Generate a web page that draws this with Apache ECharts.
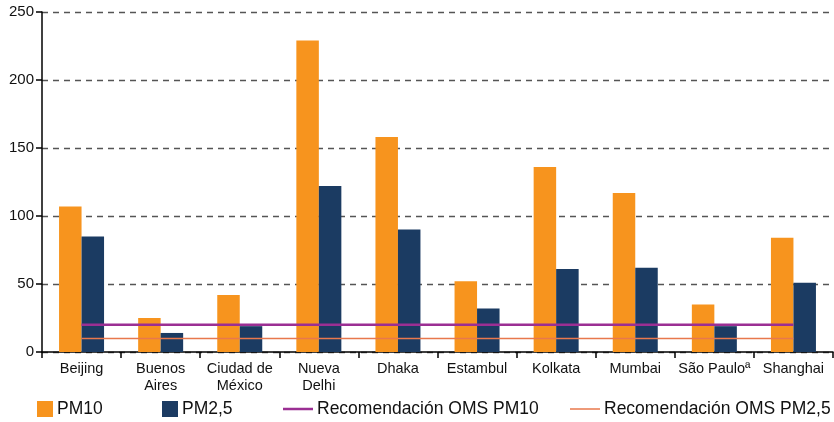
<!DOCTYPE html>
<html>
<head>
<meta charset="utf-8">
<script src="https://cdn.jsdelivr.net/npm/echarts@6/dist/echarts.min.js"></script>
<style>html,body{margin:0;padding:0;background:#fff}#c{width:834px;height:422px}</style>
</head>
<body>
<div id="c"></div>
<script>
const categories = ["Beijing", "Buenos\nAires", "Ciudad de\nMéxico", "Nueva\nDelhi", "Dhaka", "Estambul", "Kolkata", "Mumbai", "São Pauloª", "Shanghai"];
const pm10 = [107, 25, 42, 229, 158, 52, 136, 117, 35, 84];
const pm25 = [85, 14, 19, 122, 90, 32, 61, 62, 19, 51];
const omsPM10 = [20, 20, 20, 20, 20, 20, 20, 20, 20, 20];
const omsPM25 = [10, 10, 10, 10, 10, 10, 10, 10, 10, 10];
const yTicks = [0, 50, 100, 150, 200, 250];

const FONT = "'Liberation Sans', Arial, sans-serif";
const cOrange = '#F7941E', cNavy = '#1B3B62', cPurple = '#9B2F93', cLineOr = '#E8784D';

const chart = echarts.init(document.getElementById('c'));
function leg(name, left, icon, w, h) {
  return {
    data: [{name: name, icon: icon}], left: left, top: 400, itemWidth: w, itemHeight: h,
    itemGap: 0, padding: 0,
    textStyle: {fontFamily: FONT, fontSize: 17.5, color: '#111', padding: [0, 0, 0, -1]}
  };
}
chart.setOption({
  animation: false,
  grid: {left: 42, right: 1, top: 12, bottom: 70, containLabel: false},
  legend: [
    leg('PM10', 37, 'rect', 16, 16),
    leg('PM2,5', 162, 'rect', 16, 16),
    leg('Recomendación OMS PM10', 283, 'rect', 30, 2.5),
    leg('Recomendación OMS PM2,5', 570, 'rect', 30, 1.5)
  ],
  xAxis: {
    type: 'category', data: categories, boundaryGap: true,
    axisLine: {lineStyle: {color: '#000', width: 1.5}},
    axisTick: {show: true, length: 6, lineStyle: {color: '#000', width: 1.5}},
    axisLabel: {fontFamily: FONT, fontSize: 14.5, color: '#111', lineHeight: 17, margin: 8, interval: 0}
  },
  yAxis: {
    type: 'value', min: 0, max: 250, interval: 50,
    axisLine: {show: true, lineStyle: {color: '#000', width: 1.5}},
    axisTick: {show: true, length: 6, lineStyle: {color: '#000', width: 1.5}},
    axisLabel: {fontFamily: FONT, fontSize: 15, color: '#111', margin: 8,
      formatter: v => yTicks.includes(v) ? String(v) : ''},
    splitLine: {show: true, lineStyle: {color: '#555', type: [6, 5], width: 1.3}}
  },
  series: [
    {name: 'PM10', type: 'bar', data: pm10, barWidth: 22.5, barGap: '0%', itemStyle: {color: cOrange}},
    {name: 'PM2,5', type: 'bar', data: pm25, barWidth: 22.5, barGap: '0%', itemStyle: {color: cNavy}},
    {name: 'Recomendación OMS PM10', type: 'line', data: omsPM10, symbol: 'none', z: 5,
      lineStyle: {color: cPurple, width: 2.5}, itemStyle: {color: cPurple}},
    {name: 'Recomendación OMS PM2,5', type: 'line', data: omsPM25, symbol: 'none', z: 5,
      lineStyle: {color: cLineOr, width: 1.5}, itemStyle: {color: cLineOr}}
  ]
});
</script>
</body>
</html>
